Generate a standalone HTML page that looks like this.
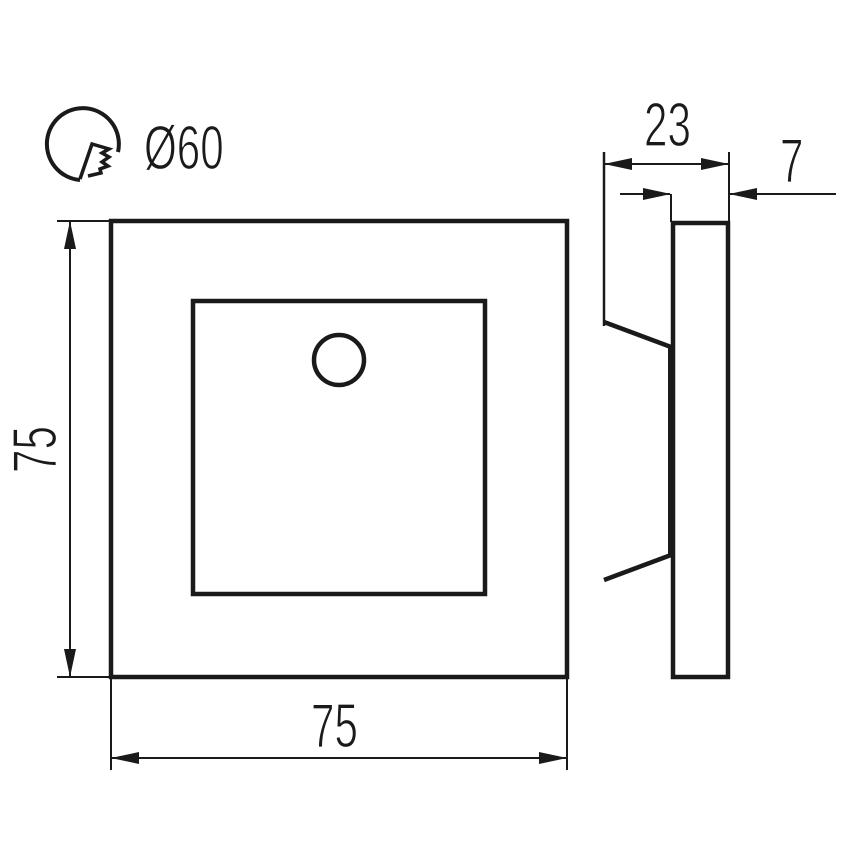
<!DOCTYPE html>
<html><head><style>html,body{margin:0;padding:0;background:#fff;}</style></head>
<body>
<svg width="850" height="850" viewBox="0 0 850 850" xmlns="http://www.w3.org/2000/svg">
<defs>
<marker id="a" markerWidth="28" markerHeight="12" refX="27" refY="6" orient="auto" markerUnits="userSpaceOnUse">
<path d="M0,0 L28,6 L0,12 Z" fill="#1a1a1a"/></marker>
</defs>
<g stroke="#1a1a1a" fill="none">
<!-- icon -->
<path d="M118,152 A36,36 0 1 0 80,180" stroke-width="4"/>
<path d="M80,179 L92,144 L109,149 L102,153 L109,157 L102,162 L108,166 L100,169 L101,173 L88,176" stroke-width="3.5"/>
<!-- front -->
<rect x="111" y="221" width="456" height="456" stroke-width="4.5"/>
<rect x="193" y="301" width="292" height="293" stroke-width="4.5"/>
<circle cx="339" cy="360" r="25" stroke-width="4.5"/>
<!-- dims front -->
<line x1="57" y1="221" x2="111" y2="221" stroke-width="2"/>
<line x1="57" y1="677" x2="111" y2="677" stroke-width="2"/>
<line x1="70" y1="500" x2="70" y2="222" stroke-width="2" marker-end="url(#a)"/>
<line x1="70" y1="400" x2="70" y2="676" stroke-width="2" marker-end="url(#a)"/>
<line x1="111" y1="677" x2="111" y2="770" stroke-width="2"/>
<line x1="567" y1="677" x2="567" y2="770" stroke-width="2"/>
<line x1="340" y1="758" x2="112" y2="758" stroke-width="2" marker-end="url(#a)"/>
<line x1="300" y1="758" x2="566" y2="758" stroke-width="2" marker-end="url(#a)"/>
<!-- side -->
<rect x="673" y="223" width="55" height="454" stroke-width="4.5"/>
<line x1="671" y1="347" x2="671" y2="556" stroke-width="6"/>
<line x1="604" y1="152" x2="604" y2="326" stroke-width="2.5"/>
<line x1="729" y1="152" x2="729" y2="222" stroke-width="2"/>
<line x1="671" y1="194" x2="671" y2="222" stroke-width="2"/>
<path d="M604,322 L671,347" stroke-width="4.5"/>
<path d="M604,580 L671,555" stroke-width="4.5"/>
<line x1="660" y1="164" x2="605" y2="164" stroke-width="2" marker-end="url(#a)"/>
<line x1="660" y1="164" x2="728" y2="164" stroke-width="2" marker-end="url(#a)"/>
<line x1="620" y1="194" x2="670" y2="194" stroke-width="2" marker-end="url(#a)"/>
<line x1="836" y1="194" x2="730" y2="194" stroke-width="2" marker-end="url(#a)"/>
</g>
<g font-family="Liberation Sans, sans-serif" font-size="62" fill="#1a1a1a" stroke="#fff" stroke-width="1.2" paint-order="normal">
<text x="0" y="0" transform="translate(144,169) scale(0.68,1)">Ø60</text>
<text x="0" y="0" transform="translate(311,747) scale(0.68,1)">75</text>
<text x="0" y="0" transform="translate(644,146) scale(0.68,1)">23</text>
<text x="0" y="0" transform="translate(780,182) scale(0.68,1)">7</text>
<text x="0" y="0" transform="translate(56,473) rotate(-90) scale(0.68,1)">75</text>
</g>
</svg>
</body></html>
